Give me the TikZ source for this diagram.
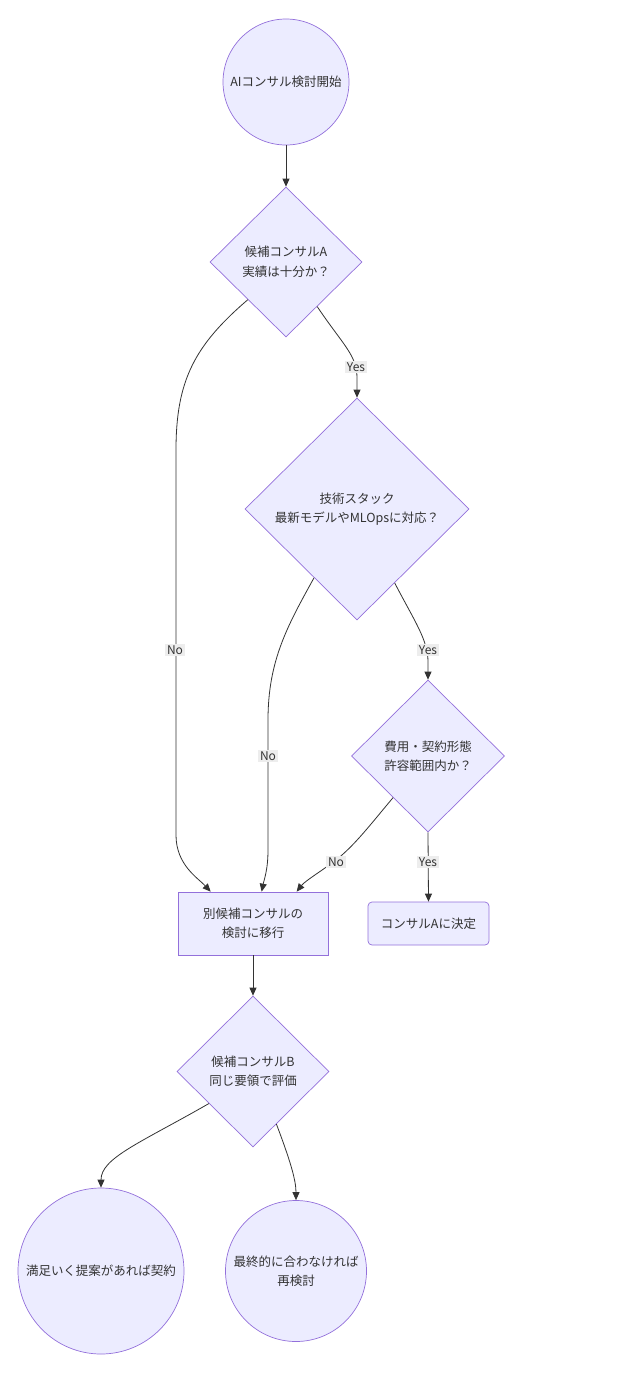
\documentclass[tikz,border=0pt]{standalone}
\usepackage{fontspec}
\setmainfont{Noto Sans CJK JP}
\usetikzlibrary{shapes.geometric,arrows.meta}
\definecolor{nodefill}{HTML}{ECECFF}
\definecolor{nodeline}{HTML}{9370DB}
\definecolor{edgeline}{HTML}{333333}
\definecolor{txt}{HTML}{333333}
\definecolor{lblbg}{HTML}{EDEDED}
\begin{document}
\begin{tikzpicture}[x=1pt,y=-1pt,
  font=\fontsize{12.5}{19.5}\selectfont, text=txt,
  base/.style={draw=nodeline, fill=nodefill, line width=0.7pt, inner sep=0pt},
  circ/.style={base, circle, align=center},
  dia/.style={base, diamond, aspect=1},
  box/.style={base, rectangle, align=center},
  rbox/.style={base, rectangle, rounded corners=4pt, align=center},
  txtnode/.style={align=center},
  edge/.style={draw=edgeline, line width=0.8pt, -{Triangle[length=8pt,width=7pt]}},
  lbl/.style={fill=lblbg, inner sep=1.8pt, font=\fontsize{12}{14}\selectfont}
]
\useasboundingbox (0,0) rectangle (644,1374);

% nodes
\node[circ, minimum size=126pt] (S) at (286,82) {AIコンサル検討開始};
\node[dia, minimum width=152pt, minimum height=150pt] (A) at (286,262) {};
\node[txtnode] at (A.center) {候補コンサルA\\実績は十分か？};
\node[dia, minimum width=224pt, minimum height=222pt] (T) at (357,509) {};
\node[txtnode] at (T.center) {技術スタック\\最新モデルやMLOpsに対応？};
\node[dia, minimum width=153pt, minimum height=152pt] (C) at (428,756) {};
\node[txtnode] at (C.center) {費用・契約形態\\許容範囲内か？};
\node[box, minimum width=150pt, minimum height=63pt] (R) at (253,923.5) {別候補コンサルの\\検討に移行};
\node[rbox, minimum width=121pt, minimum height=43pt] (D) at (428.5,923.5) {コンサルAに決定};
\node[dia, minimum width=152pt, minimum height=151pt] (B) at (253,1071.5) {};
\node[txtnode] at (B.center) {候補コンサルB\\同じ要領で評価};
\node[circ, minimum size=166pt] (L) at (101,1271) {満足いく提案があれば契約};
\node[circ, minimum size=141pt] (E) at (296,1271) {最終的に合わなければ\\再検討};

% edges
\draw[edge] (S.south) -- (A.north);
\draw[edge] (A.south west) .. controls (195,345) and (176,380) .. (176,450)
  -- (176,835) .. controls (176,865) and (198,878) .. ([xshift=33pt]R.north west);
\draw[edge] (A.-55) .. controls (343,345) and (357,355) .. (357,378) -- (T.north);
\draw[edge] (T.-122) .. controls (288,625) and (268,660) .. (268,720)
  -- (268,850) .. controls (268,870) and (264,880) .. ([xshift=84pt]R.north west);
\draw[edge] (T.-63) .. controls (415,622) and (428,640) .. (428,662) -- (C.north);
\draw[edge] (C.-130) .. controls (370,825) and (355,845) .. (336,860)
  .. controls (320,872) and (305,881) .. ([xshift=119pt]R.north west);
\draw[edge] (C.south) -- (D.north);
\draw[edge] (R.south) -- (B.north);
\draw[edge] (B.-144) .. controls (140,1143) and (101,1158) .. (L.north);
\draw[edge] (B.-66) .. controls (290,1160) and (296,1180) .. (E.north);

% edge labels
\node[lbl] (l1) at (175,650) {No};
\node[lbl] (l2) at (356,367) {Yes};
\node[lbl] (l3) at (268,756) {No};
\node[lbl] (l4) at (428,650) {Yes};
\node[lbl] (l5) at (336,862) {No};
\node[lbl] (l6) at (428,862) {Yes};
\end{tikzpicture}
\end{document}
